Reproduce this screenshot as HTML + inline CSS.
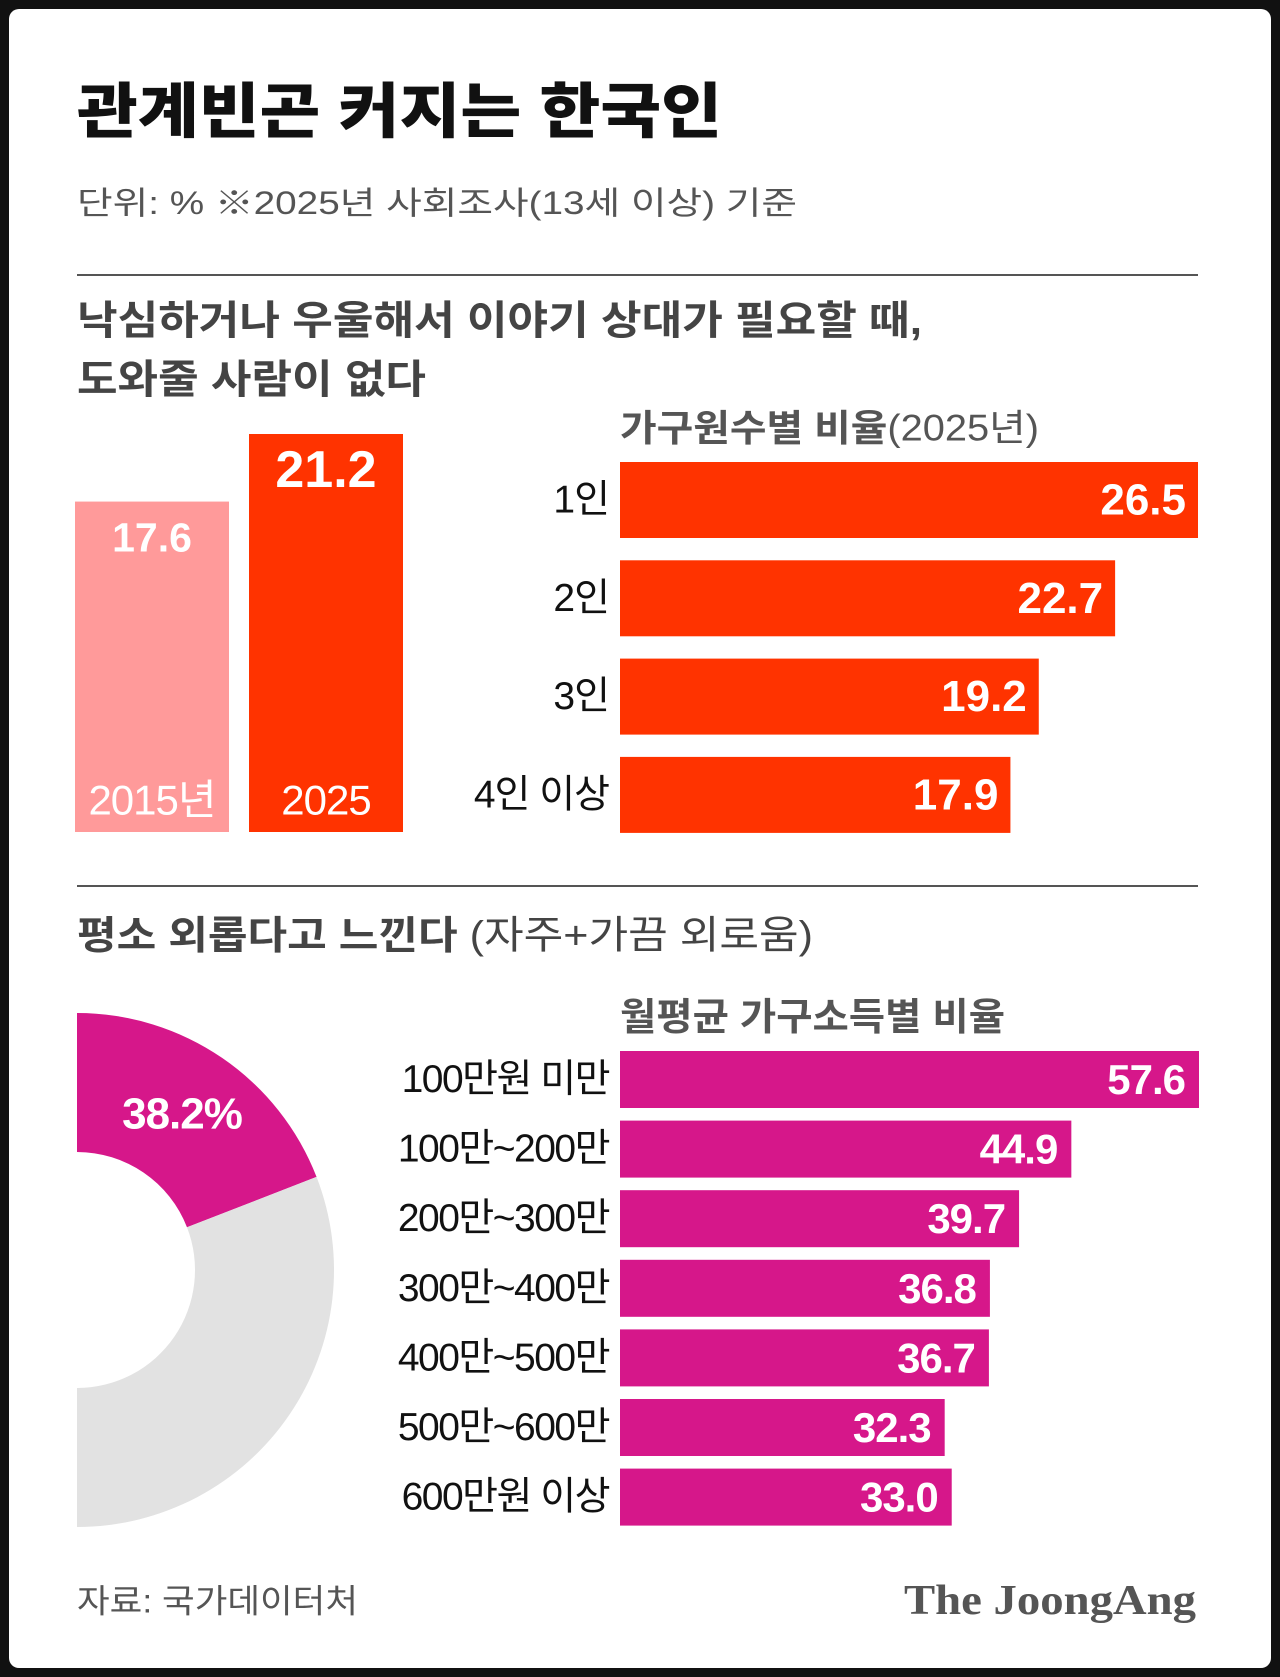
<!DOCTYPE html>
<html><head><meta charset="utf-8">
<style>
html,body{margin:0;padding:0;background:#111;width:1280px;height:1677px;overflow:hidden}
#panel{position:absolute;left:9px;top:9px;width:1262px;height:1659px;background:#fff;border-radius:10px}
svg{position:absolute;left:0;top:0}
text{font-family:"Liberation Sans","Noto Sans CJK KR",sans-serif}
</style></head><body>
<div id="panel"></div>
<svg id="chart" width="1280" height="1677">
<text x="77" y="112" font-size="60" font-weight="900" fill="#111" dominant-baseline="central" textLength="645" lengthAdjust="spacingAndGlyphs">관계빈곤 커지는 한국인</text>
<text x="77" y="203" font-size="32" fill="#555" dominant-baseline="central" textLength="720" lengthAdjust="spacingAndGlyphs">단위: %  ※2025년 사회조사(13세 이상) 기준</text>
<line x1="77" y1="275" x2="1198" y2="275" stroke="#555" stroke-width="2"/>
<text x="77" y="321" font-size="40" font-weight="bold" fill="#444" dominant-baseline="central" textLength="845" lengthAdjust="spacingAndGlyphs">낙심하거나 우울해서 이야기 상대가 필요할 때,</text>
<text x="77" y="380" font-size="40" font-weight="bold" fill="#444" dominant-baseline="central" textLength="349" lengthAdjust="spacingAndGlyphs">도와줄 사람이 없다</text>
<text x="620" y="428" font-size="37" fill="#555" dominant-baseline="central" textLength="419" lengthAdjust="spacingAndGlyphs"><tspan font-weight="bold">가구원수별 비율</tspan>(2025년)</text>
<line x1="77" y1="886" x2="1198" y2="886" stroke="#555" stroke-width="2"/>
<text x="77" y="936" font-size="39" fill="#444" dominant-baseline="central" textLength="736" lengthAdjust="spacingAndGlyphs"><tspan font-weight="bold">평소 외롭다고 느낀다</tspan> (자주+가끔 외로움)</text>
<text x="620" y="1018" font-size="38" font-weight="bold" fill="#555" dominant-baseline="central" textLength="385" lengthAdjust="spacingAndGlyphs">월평균 가구소득별 비율</text>
<text x="77" y="1601" font-size="33" fill="#555" dominant-baseline="central" textLength="281" lengthAdjust="spacingAndGlyphs">자료: 국가데이터처</text>
<text x="1196" y="1601" font-size="42" font-weight="bold" fill="#555" text-anchor="end" dominant-baseline="central" style="font-family:'Liberation Serif',serif" textLength="292" lengthAdjust="spacingAndGlyphs">The JoongAng</text>
<g id="g"></g>
</svg>
<script>
const yearCats=["2015년","2025"];
const yearVals=[17.6,21.2];
const sizeCats=["1인","2인","3인","4인 이상"];
const sizeVals=[26.5,22.7,19.2,17.9];
const lonelyShare=[38.2];
const incomeCats=["100만원 미만","100만~200만","200만~300만","300만~400만","400만~500만","500만~600만","600만원 이상"];
const incomeVals=[57.6,44.9,39.7,36.8,36.7,32.3,33.0];

const NS="http://www.w3.org/2000/svg";
const g=document.getElementById('g');
function mk(t,a,txt){const e=document.createElementNS(NS,t);for(const k in a)e.setAttribute(k,a[k]);if(txt!=null)e.textContent=txt;g.appendChild(e);return e;}

// vertical bars
const vBase=832, vScale=398/21.2;
const vX=[75,249], vW=154, vCol=["#ff9a9a","#ff3300"];
yearVals.forEach((v,i)=>{
  const h=v*vScale;
  const r=mk('rect',{x:vX[i],y:vBase-h,width:vW,height:h,fill:vCol[i]});
  
  
  const t=mk('text',{x:vX[i]+vW/2,y:vBase-h+36,'font-size':i?52:41,'font-weight':'bold',fill:'#fff','text-anchor':'middle','dominant-baseline':'central'},v.toFixed(1));
  
  
  const c=mk('text',{x:vX[i]+vW/2,y:vBase-32,'font-size':42,fill:'#fff','text-anchor':'middle','dominant-baseline':'central','letter-spacing':'-1'},yearCats[i]);
  
  
});

// household size bars
const hX0=620, hScale=578/26.5, hTop=462, hPitch=98.3, hH=76;
sizeVals.forEach((v,i)=>{
  const y=hTop+i*hPitch, w=v*hScale;
  const r=mk('rect',{x:hX0,y:y,width:w,height:hH,fill:'#ff3300'});
  
  
  const t=mk('text',{x:hX0+w-12,y:y+hH/2,'font-size':44,'font-weight':'bold',fill:'#fff','text-anchor':'end','dominant-baseline':'central'},v.toFixed(1));
  
  
  const c=mk('text',{x:609,y:y+hH/2,'font-size':39,fill:'#111','text-anchor':'end','dominant-baseline':'central','letter-spacing':'-1'},sizeCats[i]);
  
  
});

// half donut (180deg = 100%)
const cx=77, cy=1270, ro=257, ri=118;
function pt(r,deg){const a=(deg-90)*Math.PI/180;return [cx+r*Math.cos(a),cy+r*Math.sin(a)];}
function arc(a0,a1){const [x0,y0]=pt(ro,a0),[x1,y1]=pt(ro,a1),[x2,y2]=pt(ri,a1),[x3,y3]=pt(ri,a0);const L=(a1-a0)>180?1:0;
 return `M${x0},${y0}A${ro},${ro} 0 ${L} 1 ${x1},${y1}L${x2},${y2}A${ri},${ri} 0 ${L} 0 ${x3},${y3}Z`;}
const split=lonelyShare[0]/100*180;
const d1=mk('path',{d:arc(0,split),fill:'#d6178a'});


const d2=mk('path',{d:arc(split,180),fill:'#e2e2e2'});


const dl=mk('text',{x:182,y:1114,'font-size':44,'font-weight':'bold',fill:'#fff','text-anchor':'middle','dominant-baseline':'central','letter-spacing':'-1'},lonelyShare[0].toFixed(1)+'%');



// income bars
const iX0=620, iScale=579/57.6, iTop=1051, iPitch=69.6, iH=57;
incomeVals.forEach((v,i)=>{
  const y=iTop+i*iPitch, w=v*iScale;
  const r=mk('rect',{x:iX0,y:y,width:w,height:iH,fill:'#d6178a'});
  
  
  const t=mk('text',{x:iX0+w-14,y:y+iH/2,'font-size':42,'font-weight':'bold',fill:'#fff','text-anchor':'end','dominant-baseline':'central','letter-spacing':'-1'},v.toFixed(1));
  
  
  const c=mk('text',{x:609,y:y+iH/2,'font-size':39,fill:'#111','text-anchor':'end','dominant-baseline':'central','letter-spacing':'-1.5'},incomeCats[i]);
  
  
});
</script>
</body></html>
